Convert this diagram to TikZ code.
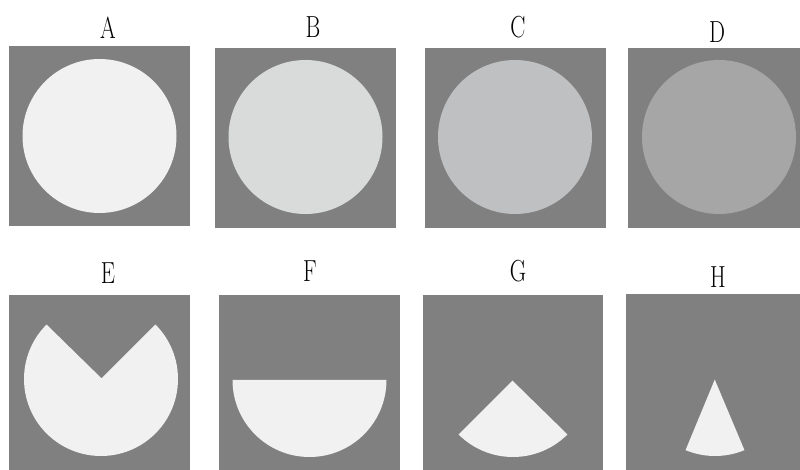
\documentclass[tikz,border=0pt]{standalone}
\usepackage{graphicx}
\usetikzlibrary{calc}
\definecolor{bggray}{HTML}{808080}
\definecolor{discA}{HTML}{F1F1F1}
\definecolor{discB}{HTML}{D9DADA}
\definecolor{discC}{HTML}{BFC0C2}
\definecolor{discD}{HTML}{A6A6A6}
\tikzset{
  lab/.style={inner sep=0, outer sep=0, font=\fontsize{26}{26}\selectfont},
  pt/.style={inner sep=0, outer sep=0}
}
\newcommand{\narrow}[1]{\scalebox{0.74}[1]{#1}}
\begin{document}
\begin{tikzpicture}[x=0.03cm, y=0.03cm]
  \useasboundingbox (0,0) rectangle (800,470);

  \node [lab] (la) at (108,442.5) {\narrow{A}};
  \fill [bggray] (9,244) rectangle (190,424);
  \node [pt] (a) at (99.5,334) {};
  \fill [discA] (a) circle (77);

  \node [lab] (lb) at (313,443) {\narrow{B}};
  \fill [bggray] (215,242) rectangle (396,422);
  \node [pt] (b) at (305.5,333) {};
  \fill [discB] (b) circle (77);

  \node [lab] (lc) at (518,443) {\narrow{C}};
  \fill [bggray] (425,242) rectangle (606,422);
  \node [pt] (c) at (515,333) {};
  \fill [discC] (c) circle (77);

  \node [lab] (ld) at (717,437.5) {\narrow{D}};
  \fill [bggray] (628,242) rectangle (809,422);
  \node [pt] (d) at (719,333) {};
  \fill [discD] (d) circle (77);

  \node [lab] (le) at (108,196.5) {\narrow{E}};
  \fill [bggray] (9,-5) rectangle (190,175);
  \node [pt] (e) at (101,91) {};
  \fill [discA] (e) -- ($(e)+(45:77)$) arc (45:-225:77) -- cycle;

  \node [lab] (lf) at (310,199) {\narrow{F}};
  \fill [bggray] (219,-5) rectangle (400,175);
  \node [pt] (f) at (309.5,90) {};
  \fill [discA] ($(f)+(180:77)$) arc (180:360:77) -- cycle;

  \node [lab] (lg) at (518,199) {\narrow{G}};
  \fill [bggray] (423,-5) rectangle (603,175);
  \node [pt] (g) at (513,90) {};
  \fill [discA] (g) -- ($(g)+(225:77)$) arc (225:315:77) -- cycle;

  \node [lab] (lh) at (718,193) {\narrow{H}};
  \fill [bggray] (626,-5) rectangle (807,176);
  \node [pt] (h) at (715,91) {};
  \fill [discA] (h) -- ($(h)+(247.5:77)$) arc (247.5:292.5:77) -- cycle;
\end{tikzpicture}
\end{document}
